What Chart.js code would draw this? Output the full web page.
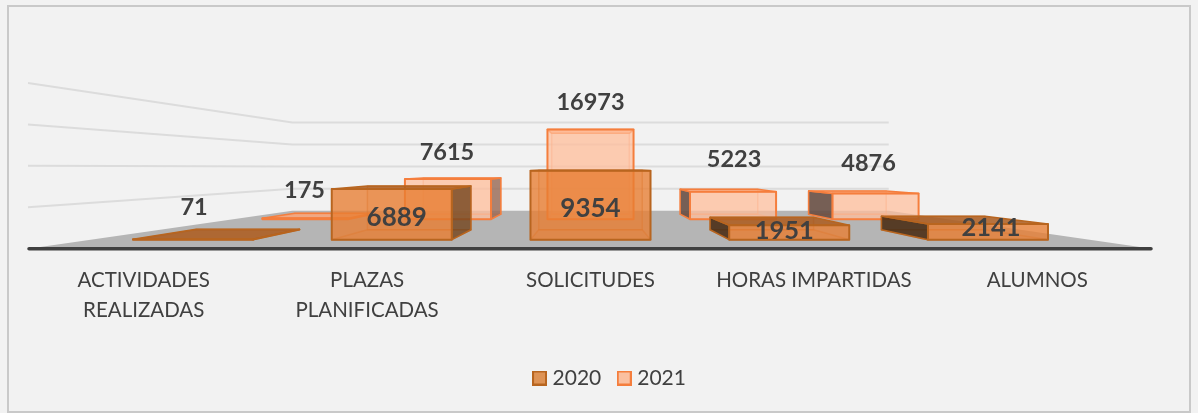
<!DOCTYPE html>
<html><head><meta charset="utf-8">
<style>html,body{margin:0;padding:0;background:#f2f2f2}canvas{display:block}</style>
<script src="https://cdn.jsdelivr.net/npm/chart.js@4"></script></head>
<body><canvas id="c" width="1198" height="413"></canvas>
<script>
const categories=[["ACTIVIDADES","REALIZADAS"],["PLAZAS","PLANIFICADAS"],"SOLICITUDES","HORAS IMPARTIDAS","ALUMNOS"];
const values2020=[71,6889,9354,1951,2141];
const values2021=[175,7615,16973,5223,4876];
const seriesNames=["2020","2021"];
const tickMax=20000, tickStep=5000;

// label nudges and font sizes relative to the bar's projected top centre (style only)
const nudges=[
 [[1,-32,23.5],[5,28.5,26],[0,38,26],[-5,5,25.5],[3,4,25.5]],
 [[-1,-28,23.5],[-1,-27,23.5],[0,-27,23.5],[1,-32,23.5],[-7,-30,23.5]]
];
const vanishY=167.5;
const wallDepth=.534;
const series3d=[
 {f0:.8896,f1:.767,front:'rgba(232,125,50,.78)',edge:'#b8651f',top:'rgba(172,92,30,.85)',side:'rgba(112,66,28,.78)',sideDark:'rgba(72,44,20,.88)',inner:'rgba(190,105,40,.45)',innerFill:'rgba(232,125,50,.12)',swatch:'#de9355'},
 {f0:.638,f1:.575,front:'rgba(255,190,155,.72)',edge:'#f57e3d',top:'rgba(250,165,120,.8)',side:'rgba(150,105,85,.8)',sideDark:'rgba(100,75,65,.88)',inner:'rgba(245,130,70,.4)',innerFill:'rgba(255,190,155,.12)',swatch:'#fac0a0'}
];
function swatch(s){
 const k=document.createElement('canvas');k.width=15;k.height=15;
 const g=k.getContext('2d');g.fillStyle=s.swatch;g.fillRect(1,1,13,13);g.strokeStyle=s.edge;g.lineWidth=2;g.strokeRect(1,1,13,13);
 return k;
}
const prism3d={
 id:'prism3d',
 beforeDraw(chart){
  const {ctx,width,height}=chart;
  ctx.save();
  ctx.fillStyle='#f2f2f2';ctx.fillRect(0,0,width,height);
  ctx.strokeStyle='#c9c9c9';ctx.lineWidth=2;
  ctx.strokeRect(8,6,1182,406);
  ctx.restore();
 },
 afterLayout(chart){
  chart.legend.left+=25;chart.legend.right+=25;
 },
 beforeDatasetsDraw(chart){
  const {ctx,chartArea:a,scales:{y}}=chart;
  const P=(px,py,f)=>proj(a,px,py,f);
  ctx.save();
  const fl=P(a.left,a.bottom,wallDepth), fr=P(a.right,a.bottom,wallDepth);
  ctx.fillStyle='#b5b5b5';
  ctx.beginPath();ctx.moveTo(a.left-4,a.bottom);ctx.lineTo(fl[0],fl[1]);ctx.lineTo(fr[0],fr[1]);ctx.lineTo(a.right+3,a.bottom);ctx.closePath();ctx.fill();
  ctx.strokeStyle='#dcdcdc';ctx.lineWidth=2;
  y.ticks.forEach(t=>{
   if(t.value===0) return;
   const py=y.getPixelForValue(t.value);
   const b0=P(a.left,py,wallDepth),b1=P(a.right,py,wallDepth),s=[a.left-4,py];
   ctx.beginPath();ctx.moveTo(s[0],s[1]);ctx.lineTo(b0[0],b0[1]);ctx.lineTo(b1[0],b1[1]);ctx.stroke();
  });
  ctx.strokeStyle='#404040';ctx.lineWidth=3.5;ctx.lineCap='round';
  ctx.beginPath();ctx.moveTo(a.left-3,a.bottom);ctx.lineTo(a.right+2,a.bottom);ctx.stroke();
  ctx.restore();
 },
 beforeDatasetDraw(chart,args){
  const {ctx,chartArea:a}=chart;
  const s=series3d[args.index];
  const vx=(a.left+a.right)/2;
  ctx.save();ctx.lineJoin='round';
  args.meta.data.forEach(el=>{
   const L=el.x-el.width/2,R=el.x+el.width/2,T=el.y,B=el.base;
   const c=(px,py,f)=>proj(a,px,py,f);
   const fTL=c(L,T,s.f0),fTR=c(R,T,s.f0),fBL=c(L,B,s.f0),fBR=c(R,B,s.f0);
   const bTL=c(L,T,s.f1),bTR=c(R,T,s.f1),bBL=c(L,B,s.f1),bBR=c(R,B,s.f1);
   const face=(pts,fill,stroke,w)=>{ctx.beginPath();pts.forEach((p,i)=>i?ctx.lineTo(p[0],p[1]):ctx.moveTo(p[0],p[1]));ctx.closePath();if(fill){ctx.fillStyle=fill;ctx.fill();}if(stroke){ctx.strokeStyle=stroke;ctx.lineWidth=w;ctx.stroke();}};
   face([bTL,bTR,bBR,bBL],s.innerFill,s.inner,1.5);
   face([fBL,fBR,bBR,bBL],s.innerFill,s.inner,1.5);
   const off=el.x-vx;
   if(off<-1){face([fBR,fTR,bTR,bBR],s.side,s.edge,1.5);}
   else if(off>1){face([fBL,fTL,bTL,bBL],s.sideDark,s.edge,1.5);}
   face([fTL,fTR,bTR,bTL],s.top,s.edge,1.5);
   face([fTL,fTR,fBR,fBL],s.front,s.edge,2);
  });
  ctx.restore();
  return false;
 },
 afterDatasetsDraw(chart){
  const {ctx,chartArea:a}=chart;
  ctx.save();
  ctx.fillStyle='#404040';ctx.textAlign='center';ctx.textBaseline='middle';
  chart.data.datasets.forEach((d,i)=>{
   chart.getDatasetMeta(i).data.forEach((el,j)=>{
    const p=proj(a,el.x,el.y,series3d[i].f0);
    const n=nudges[i][j];
    ctx.font='700 '+n[2]+'px Lato';
    ctx.fillText(String(d.data[j]),p[0]+n[0],p[1]+n[1]);
   });
  });
  ctx.restore();
 }
};
function proj(a,px,py,f){const vx=(a.left+a.right)/2;return [vx+(px-vx)*f,vanishY+(py-vanishY)*f];}
const swatches=series3d.map(swatch);
new Chart(document.getElementById('c'),{
 type:'bar',
 data:{labels:categories,datasets:[
  {label:seriesNames[0],data:values2020,backgroundColor:series3d[0].swatch,borderColor:series3d[0].edge,borderWidth:2,grouped:false,barPercentage:.604,categoryPercentage:1},
  {label:seriesNames[1],data:values2021,backgroundColor:series3d[1].swatch,borderColor:series3d[1].edge,borderWidth:2,grouped:false,barPercentage:.604,categoryPercentage:1}
 ]},
 options:{
  responsive:false,animation:false,
  layout:{padding:{left:24,right:49,top:83,bottom:14.5}},
  plugins:{
   tooltip:{enabled:false},
   legend:{position:'bottom',labels:{color:'#404040',font:{family:'Lato',size:21},usePointStyle:true,pointStyleWidth:5,boxHeight:14,padding:20.5,
     generateLabels(chart){return Chart.defaults.plugins.legend.labels.generateLabels(chart).map((it,i)=>({...it,pointStyle:swatches[i]}));}}}
  },
  scales:{
   x:{grid:{display:false},border:{display:false},afterFit(s){s.height+=12.5;},
      ticks:{color:'#404040',font:{family:'Lato',size:20.5,lineHeight:1.46},padding:9,maxRotation:0,autoSkip:false}},
   y:{min:0,max:tickMax,grid:{display:false},border:{display:false},ticks:{display:false,stepSize:tickStep}}
  }
 },
 plugins:[prism3d]
});
</script></body></html>
